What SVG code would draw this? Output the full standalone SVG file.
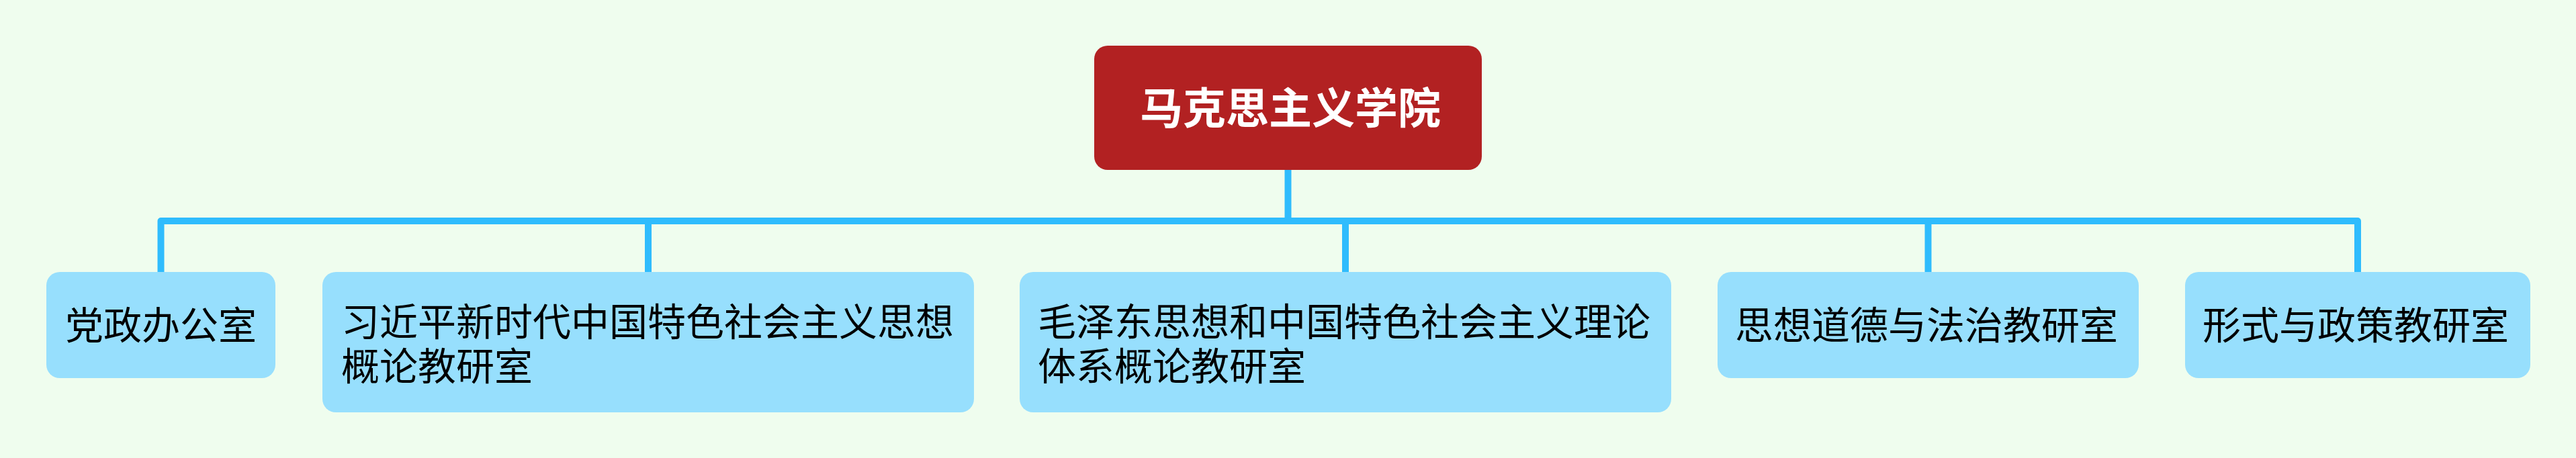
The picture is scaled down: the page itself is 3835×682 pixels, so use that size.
<svg xmlns="http://www.w3.org/2000/svg" width="3835" height="682" viewBox="0 0 3835 682">
<style>
.bg{fill:#effdee}
.child rect{fill:#97dffd}
.child text{font-family:"Noto Sans CJK SC","Noto Sans",sans-serif;font-size:57px;fill:#000}
.root rect{fill:#b22122}
.root text{font-family:"Noto Sans CJK SC","Noto Sans",sans-serif;font-size:64px;font-weight:bold;fill:#fff}
.conn path{fill:none;stroke:#2fbcfd;stroke-width:10;stroke-linejoin:round}
</style>
<rect class="bg" x="0" y="0" width="3835" height="682"/>
<g class="conn" id="connectors">
<path d="M239.5 405 V329 H3510 V405"/>
<path d="M1917.5 253 V329"/>
<path d="M965 329 V405"/>
<path d="M2003 329 V405"/>
<path d="M2870.5 329 V405"/>
</g>
<g class="root" id="root">
<rect x="1629" y="68" width="577" height="185" rx="20"/>
<text x="1921" y="184" text-anchor="middle">马克思主义学院</text>
</g>
<g class="child" id="n1">
<rect x="69" y="405" width="341" height="158" rx="20"/>
<text x="97" y="505">党政办公室</text>
</g>
<g class="child" id="n2">
<rect x="480" y="405" width="970" height="209" rx="20"/>
<text x="508" y="500">习近平新时代中国特色社会主义思想</text>
<text x="508" y="566">概论教研室</text>
</g>
<g class="child" id="n3">
<rect x="1518" y="405" width="970" height="209" rx="20"/>
<text x="1545" y="500">毛泽东思想和中国特色社会主义理论</text>
<text x="1545" y="566">体系概论教研室</text>
</g>
<g class="child" id="n4">
<rect x="2557" y="405" width="627" height="158" rx="20"/>
<text x="2583" y="505">思想道德与法治教研室</text>
</g>
<g class="child" id="n5">
<rect x="3253" y="405" width="514" height="158" rx="20"/>
<text x="3279" y="505">形式与政策教研室</text>
</g>
</svg>
